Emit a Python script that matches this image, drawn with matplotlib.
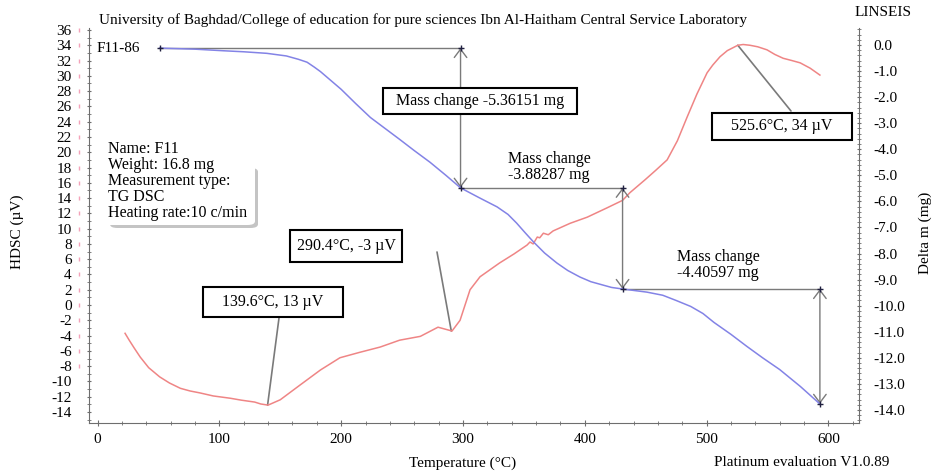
import numpy as np
import matplotlib.pyplot as plt
from matplotlib.patches import Rectangle, FancyBboxPatch
from matplotlib.ticker import MultipleLocator, FormatStrFormatter

plt.rcParams['font.family'] = ['Liberation Serif', 'DejaVu Serif']
plt.rcParams['axes.unicode_minus'] = False

# TG curve (Delta m, mg) vs temperature
temp_tg = [51, 80, 103, 120, 139, 155, 165, 172, 178, 183, 190, 200, 212,
           224, 236, 248, 260, 273, 286, 298, 313, 328, 337, 344, 351, 358,
           367, 377, 386, 396, 405, 415, 422, 431, 451, 464, 475, 487, 497,
           506, 520, 533, 546, 560, 577, 593]
mass_tg = [-0.12, -0.16, -0.22, -0.26, -0.32, -0.42, -0.55, -0.66, -0.85,
           -1.02, -1.30, -1.70, -2.25, -2.78, -3.20, -3.62, -4.05, -4.50,
           -5.00, -5.48, -5.85, -6.21, -6.50, -6.83, -7.20, -7.56, -7.98,
           -8.36, -8.65, -8.90, -9.08, -9.21, -9.30, -9.36, -9.48, -9.60,
           -9.80, -10.03, -10.30, -10.64, -11.10, -11.56, -12.00, -12.45,
           -13.10, -13.77]

# DSC curve (µV) vs temperature
temp_dsc = [22.6, 26, 30, 35, 42, 51, 59, 68, 76, 84, 95, 109, 118, 129, 134,
            140, 150, 166, 183, 199, 215, 232, 248, 265, 279.5, 291, 297.6,
            305.8, 314, 330, 342, 352.6, 355, 357.6, 361, 363, 366, 370, 374,
            388, 402, 418, 431, 437, 449.5, 458, 467.6, 476, 484, 492, 500.4,
            505, 511, 517, 525.6, 530, 535.6, 542, 549.6, 556, 562.8, 570,
            576.8, 585, 593]
dsc_uv = [-3.7, -4.6, -5.6, -6.8, -8.2, -9.4, -10.2, -10.9, -11.25, -11.5,
          -11.9, -12.2, -12.45, -12.7, -12.95, -13.1, -12.4, -10.5, -8.5,
          -6.9, -6.2, -5.5, -4.6, -4.1, -2.9, -3.4, -2.0, 2.0, 3.7, 5.5, 6.7,
          7.85, 8.25, 8.0, 8.9, 8.8, 9.4, 9.2, 9.7, 10.7, 11.5, 12.7, 13.7,
          14.7, 16.4, 17.6, 19.0, 21.5, 24.6, 27.6, 30.4, 31.4, 32.5, 33.3,
          34.0, 34.1, 34.0, 33.8, 33.4, 32.8, 32.3, 32.0, 31.7, 31.0, 30.1]

# DSC peaks
peak_temp = [139.6, 290.4, 525.6]
peak_uv = [-13.1, -3.4, 34.0]
peak_text = ['139.6°C, 13 µV', '290.4°C, -3 µV', '525.6°C, 34 µV']

# mass loss steps
step_temp = [51, 298, 431, 593]
mass_start = -0.115
mass_changes = [-5.36151, -3.88287, -4.40597]

W, H = 940, 474


def fx(px):
    return px / W


def fy(py):
    return 1 - py / H


fig = plt.figure(figsize=(9.4, 4.74), dpi=100)
ax = fig.add_axes([fx(89), fy(423), fx(859) - fx(89), fy(28) - fy(423)])
ax2 = ax.twinx()

axis_col = '#6e6e6e'
fs = 11

ax.set_xlim(-7.0, 625.1)
ax.set_ylim(-15.44, 36.26)
ax2.set_ylim(-14.50, 0.652)

for a in (ax, ax2):
    a.spines['top'].set_visible(False)
    for s in ('left', 'right', 'bottom'):
        a.spines[s].set_color(axis_col)
ax.spines['right'].set_visible(False)
ax2.spines['left'].set_visible(False)
ax2.spines['bottom'].set_visible(False)

ax.xaxis.set_major_locator(MultipleLocator(100))
ax.xaxis.set_minor_locator(MultipleLocator(20))
ax.set_yticks(np.arange(-14, 37, 2))
ax.yaxis.set_minor_locator(MultipleLocator(1))
ax2.set_yticks(np.arange(-14, 0.5, 1))
ax2.yaxis.set_minor_locator(MultipleLocator(0.2))
ax2.yaxis.set_major_formatter(FormatStrFormatter('%.1f'))

ax.tick_params(axis='x', which='both', direction='inout', color=axis_col,
               labelsize=fs, pad=5)
ax.tick_params(axis='x', which='major', length=4)
ax.tick_params(axis='x', which='minor', length=3)
ax.tick_params(axis='y', which='both', direction='inout', color=axis_col,
               labelsize=fs, pad=11, length=3)
ax2.tick_params(axis='y', which='both', direction='inout', color=axis_col,
                labelsize=fs, pad=9, length=3)

# faint red marks beside the DSC scale
mark_y = np.arange(-8, 37, 2)
ax.plot(np.full(len(mark_y), -0.013), mark_y, ls='none', marker='|',
        ms=3, color='#f07a9a', alpha=0.7,
        transform=ax.get_yaxis_transform(), clip_on=False)

# curves
ax.plot(temp_dsc, dsc_uv, color='#ef8585', lw=1.1, zorder=4)
ax2.plot(temp_tg, mass_tg, color='#8383e6', lw=1.1, zorder=4)

# mass change construction lines
levels = [mass_start]
for d in mass_changes:
    levels.append(levels[-1] + d)
gray = '#7a7a7a'
for i in range(3):
    ax2.plot([step_temp[i], step_temp[i + 1]], [levels[i], levels[i]],
             color=gray, lw=1.0, zorder=3)
    ax2.annotate('', xy=(step_temp[i + 1], levels[i + 1]),
                 xytext=(step_temp[i + 1], levels[i]),
                 arrowprops=dict(arrowstyle='<->,head_length=0.6,head_width=0.45',
                                 color=gray, lw=1.0, shrinkA=0, shrinkB=0),
                 zorder=3)
ax2.plot(step_temp, levels, ls='none', marker='+',
         ms=4, mew=1, color='#202040', zorder=5)
ax2.plot(step_temp[1:], levels[:-1], ls='none', marker='+', ms=4,
         mew=1, color='#202040', zorder=5)


# boxed labels
def box_label(x0, y0, x1, y1, text):
    fig.patches.append(Rectangle((fx(x0), fy(y1)), fx(x1) - fx(x0),
                                 fy(y0) - fy(y1), transform=fig.transFigure,
                                 facecolor='white', edgecolor='black', lw=1.5,
                                 zorder=6))
    fig.text(fx((x0 + x1) / 2), fy((y0 + y1) / 2), text, ha='center',
             va='center', fontsize=fs + 0.5, zorder=7)


box_label(203, 287, 343, 317, peak_text[0])
box_label(290, 230, 402, 262, peak_text[1])
box_label(712, 113, 852, 140, peak_text[2])
box_label(383, 88, 577, 114,
          'Mass change %.5f mg' % mass_changes[0])

# leader lines from labels to DSC peaks
leader_from = [(279, 318), (437, 252), (791, 111)]
for (lx, ly), t, v in zip(leader_from, peak_temp, peak_uv):
    ax.annotate('', xy=(t, v), xytext=(fx(lx), fy(ly)),
                textcoords='figure fraction',
                arrowprops=dict(arrowstyle='-', color=gray, lw=1.2,
                                shrinkA=0, shrinkB=0), zorder=3)

fig.text(fx(508), fy(167), 'Mass change\n%.5f mg' % mass_changes[1],
         ha='left', va='center', fontsize=fs + 0.5, linespacing=1.05)
fig.text(fx(677), fy(265), 'Mass change\n%.5f mg' % mass_changes[2],
         ha='left', va='center', fontsize=fs + 0.5, linespacing=1.05)

# sample info panel (shadow only shows on the lower right)
fig.patches.append(FancyBboxPatch((fx(110), fy(228)), fx(258) - fx(110),
                                  fy(168) - fy(228),
                                  boxstyle='round,pad=0,rounding_size=0.008',
                                  transform=fig.transFigure,
                                  facecolor='#c4c4c4', edgecolor='none',
                                  zorder=1))
fig.patches.append(FancyBboxPatch((fx(101), fy(225)), fx(255) - fx(101),
                                  fy(139) - fy(225),
                                  boxstyle='round,pad=0,rounding_size=0.008',
                                  transform=fig.transFigure,
                                  facecolor='white', edgecolor='none',
                                  zorder=1))
fig.text(fx(108), fy(181), 'Name: F11\nWeight: 16.8 mg\nMeasurement type:\n'
         'TG DSC\nHeating rate:10 c/min', ha='left', va='center',
         fontsize=fs + 0.5, linespacing=1.0)

# header, footer and axis titles
fig.text(fx(99), fy(20), 'University of Baghdad/College of education for '
         'pure sciences Ibn Al-Haitham Central Service Laboratory',
         ha='left', va='center', fontsize=fs)
fig.text(fx(883), fy(12), 'LINSEIS', ha='center', va='center', fontsize=fs)
fig.text(fx(97), fy(48), 'F11-86', ha='left', va='center', fontsize=fs)
fig.text(fx(17), fy(232), 'HDSC (µV)', ha='center', va='center',
         rotation=90, fontsize=fs)
fig.text(fx(925), fy(233), 'Delta m (mg)', ha='center', va='center',
         rotation=90, fontsize=fs)
fig.text(fx(463), fy(463), 'Temperature (°C)', ha='center', va='center',
         fontsize=fs)
fig.text(fx(714), fy(463), 'Platinum evaluation V1.0.89', ha='left',
         va='center', fontsize=fs)

fig.savefig('out.png', dpi=100)
